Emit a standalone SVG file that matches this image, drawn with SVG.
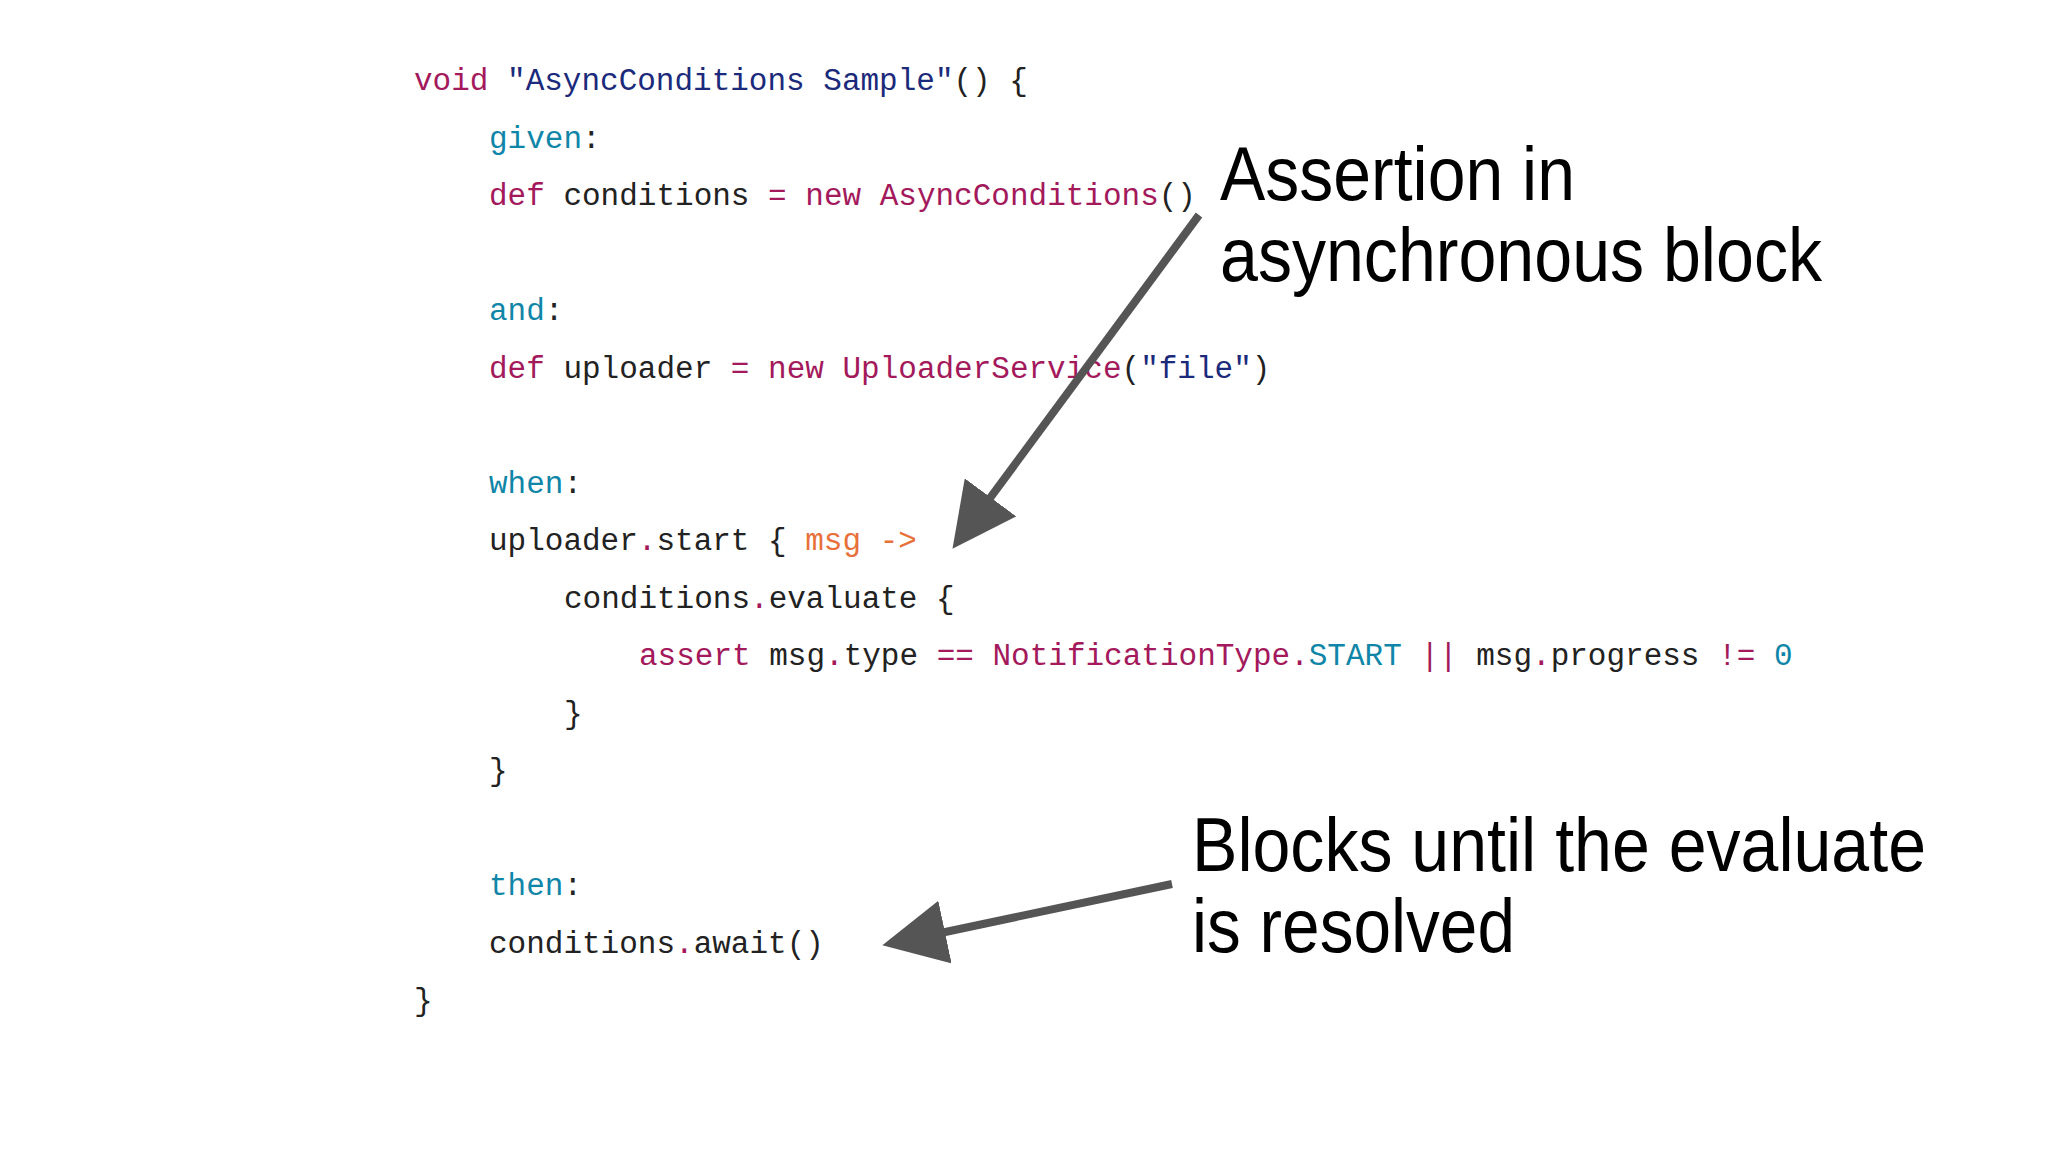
<svg xmlns="http://www.w3.org/2000/svg" width="2048" height="1152" viewBox="0 0 2048 1152">
<style>
.c{font-family:"Liberation Mono","DejaVu Sans Mono",monospace;font-size:31px;fill:#222}
.k{fill:#a3195b}.s{fill:#1b2a7a}.t{fill:#0f86a8}.o{fill:#e8703a}
.a{font-family:"Liberation Sans",Arial,sans-serif;font-size:76px;fill:#000}
.ln{stroke:#555;stroke-width:8;fill:none}
</style>
<defs><marker id="ah" markerWidth="8" markerHeight="8" refX="6" refY="4" orient="auto" markerUnits="strokeWidth"><path d="M0,0 L8,4 L0,8 Z" fill="#555"/></marker></defs>
<rect width="2048" height="1152" fill="#fff"/>
<g id="code">
<text class="c" x="414" y="90"><tspan class="k">void</tspan> <tspan class="s">"AsyncConditions Sample"</tspan>() {</text>
<text class="c" x="489" y="147.5"><tspan class="t">given</tspan>:</text>
<text class="c" x="489" y="205"><tspan class="k">def</tspan> conditions <tspan class="k">=</tspan> <tspan class="k">new</tspan> <tspan class="k">AsyncConditions</tspan>()</text>
<text class="c" x="489" y="320"><tspan class="t">and</tspan>:</text>
<text class="c" x="489" y="377.5"><tspan class="k">def</tspan> uploader <tspan class="k">=</tspan> <tspan class="k">new</tspan> <tspan class="k">UploaderService</tspan>(<tspan class="s">"file"</tspan>)</text>
<text class="c" x="489" y="492.5"><tspan class="t">when</tspan>:</text>
<text class="c" x="489" y="550">uploader<tspan class="k">.</tspan>start { <tspan class="o">msg -&gt;</tspan></text>
<text class="c" x="564" y="607.5">conditions<tspan class="k">.</tspan>evaluate {</text>
<text class="c" x="639" y="665"><tspan class="k">assert</tspan> msg<tspan class="k">.</tspan>type <tspan class="k">==</tspan> <tspan class="k">NotificationType.</tspan><tspan class="t">START</tspan> <tspan class="k">||</tspan> msg<tspan class="k">.</tspan>progress <tspan class="k">!=</tspan> <tspan class="t">0</tspan></text>
<text class="c" x="564" y="722.5">}</text>
<text class="c" x="489" y="780">}</text>
<text class="c" x="489" y="895"><tspan class="t">then</tspan>:</text>
<text class="c" x="489" y="952.5">conditions<tspan class="k">.</tspan>await()</text>
<text class="c" x="414" y="1010">}</text>
</g>
<g id="note1">
<text class="a" x="1220" y="200" textLength="355" lengthAdjust="spacingAndGlyphs">Assertion in</text>
<text class="a" x="1220" y="281" textLength="602" lengthAdjust="spacingAndGlyphs">asynchronous block</text>
</g>
<g id="note2">
<text class="a" x="1192" y="871" textLength="734" lengthAdjust="spacingAndGlyphs">Blocks until the evaluate</text>
<text class="a" x="1192" y="952" textLength="323" lengthAdjust="spacingAndGlyphs">is resolved</text>
</g>
<g id="connectors">
<line class="ln" x1="1199" y1="215" x2="962" y2="536" marker-end="url(#ah)"/>
<line class="ln" x1="1172" y1="884" x2="898" y2="942" marker-end="url(#ah)"/>
</g>
</svg>
